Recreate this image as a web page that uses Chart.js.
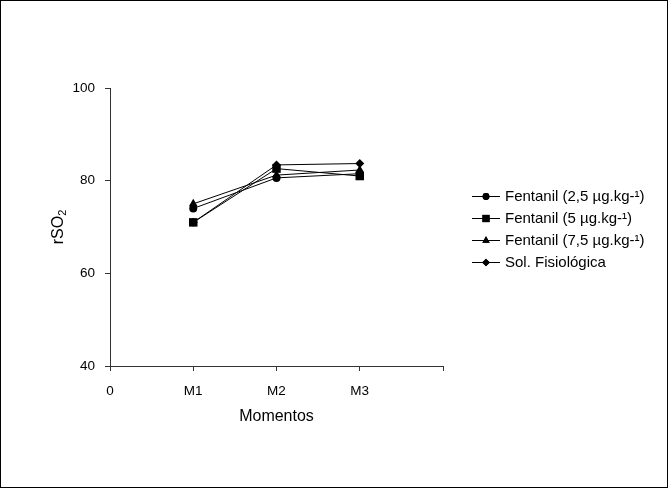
<!DOCTYPE html>
<html>
<head>
<meta charset="utf-8">
<script src="https://cdn.jsdelivr.net/npm/chart.js@4"></script>
<style>
  html, body { margin: 0; padding: 0; background: #fff; }
  #wrap { width: 668px; height: 488px; }
</style>
</head>
<body>
<div id="wrap"><canvas id="rso2Chart" width="668" height="488"></canvas></div>
<script>
// categories on the x axis (first and last are empty slots like the original)
const categories = ['0', 'M1', 'M2', 'M3', ''];
const moments = ['M1', 'M2', 'M3'];

// rSO2 means per group
const fent25 = [74, 80.6, 81.5];
const fent5 = [71, 82.6, 81.0];
const fent75 = [75, 81.2, 82.3];
const solFisio = [71, 83.4, 83.7];

const yTicks = [40, 60, 80, 100];

const seriesNames = [
    'Fentanil (2,5 µg.kg-¹)',
    'Fentanil (5 µg.kg-¹)',
    'Fentanil (7,5 µg.kg-¹)',
    'Sol. Fisiológica'
];

function toPoints(values) {
    return values.map(function(v, i) { return { x: moments[i], y: v }; });
}

document.addEventListener('DOMContentLoaded', function() {
    const ctx = document.getElementById('rso2Chart').getContext('2d');

    const fontFamily = 'Arial, "Liberation Sans", sans-serif';
    Chart.defaults.font.family = fontFamily;
    Chart.defaults.font.size = 13.5;
    Chart.defaults.color = '#000';

    const markers = [
        { style: 'circle', radius: 4 },
        { style: 'rect', radius: 6 },
        { style: 'triangle', radius: 5 },
        { style: 'rectRot', radius: 4.5 }
    ];

    const allValues = [fent25, fent5, fent75, solFisio];

    const datasets = allValues.map(function(vals, i) {
        return {
            label: seriesNames[i],
            data: toPoints(vals),
            borderColor: '#000',
            backgroundColor: '#000',
            borderWidth: 1,
            pointStyle: markers[i].style,
            pointRadius: markers[i].radius,
            pointBorderWidth: 0,
            tension: 0
        };
    });

    // frame around the whole figure
    const framePlugin = {
        id: 'frame',
        beforeDraw: function(chart) {
            const c = chart.ctx;
            c.save();
            c.fillStyle = '#fff';
            c.fillRect(0, 0, chart.width, chart.height);
            c.strokeStyle = '#000';
            c.lineWidth = 1;
            c.strokeRect(0.5, 0.5, chart.width - 1, chart.height - 1);
            c.restore();
        }
    };

    // y title with a proper subscript 2
    const yTitle = {
        id: 'yTitle',
        afterDraw: function(chart) {
            const area = chart.chartArea;
            const c = chart.ctx;
            c.save();
            c.translate(59, (area.top + area.bottom) / 2);
            c.rotate(-Math.PI / 2);
            c.fillStyle = '#000';
            c.textBaseline = 'middle';
            c.font = '16px ' + fontFamily;
            const main = 'rSO';
            const wMain = c.measureText(main).width;
            c.font = '11px ' + fontFamily;
            const wSub = c.measureText('2').width;
            const x0 = -(wMain + wSub) / 2;
            c.font = '16px ' + fontFamily;
            c.textAlign = 'left';
            c.fillText(main, x0, 0);
            c.font = '11px ' + fontFamily;
            c.fillText('2', x0 + wMain, 4);
            c.restore();
        }
    };

    // legend with line + marker, like the spreadsheet one
    const sideLegend = {
        id: 'sideLegend',
        afterDraw: function(chart) {
            const c = chart.ctx;
            c.save();
            c.font = '15px ' + fontFamily;
            c.textBaseline = 'middle';
            chart.data.datasets.forEach(function(ds, i) {
                const y = 196 + i * 22;
                c.strokeStyle = '#000';
                c.lineWidth = 1;
                c.beginPath();
                c.moveTo(472, y + 0.5);
                c.lineTo(500, y + 0.5);
                c.stroke();
                Chart.helpers.drawPoint(c, {
                    pointStyle: ds.pointStyle,
                    radius: ds.pointRadius * 0.85,
                    rotation: 0,
                    borderWidth: 0
                }, 486, y + 0.5);
                c.fillStyle = '#000';
                c.fill();
                c.fillText(ds.label, 505, y + 1);
            });
            c.restore();
        }
    };

    new Chart(ctx, {
        type: 'line',
        data: { labels: categories, datasets: datasets },
        options: {
            responsive: false,
            animation: false,
            layout: { padding: { left: 50, right: 225, top: 88, bottom: 62 } },
            plugins: {
                legend: { display: false },
                tooltip: { enabled: false }
            },
            scales: {
                x: {
                    type: 'category',
                    offset: false,
                    grid: { drawOnChartArea: false, drawTicks: true, tickLength: 5, color: '#333' },
                    border: { color: '#333' },
                    ticks: { padding: 12, autoSkip: false, maxRotation: 0 },
                    title: { display: true, text: 'Momentos', font: { size: 16 }, padding: { top: 10, bottom: 0 } },
                    afterFit: function(s) { s.height = 60; }
                },
                y: {
                    min: 40,
                    max: 100,
                    afterBuildTicks: function(s) { s.ticks = yTicks.map(function(v) { return { value: v }; }); },
                    grid: { drawOnChartArea: false, drawTicks: true, tickLength: 5, color: '#333' },
                    border: { color: '#333' },
                    ticks: { padding: 10 },
                    title: { display: false },
                    afterFit: function(s) { s.width = 60; }
                }
            }
        },
        plugins: [framePlugin, sideLegend, yTitle]
    });
});
</script>
</body>
</html>
